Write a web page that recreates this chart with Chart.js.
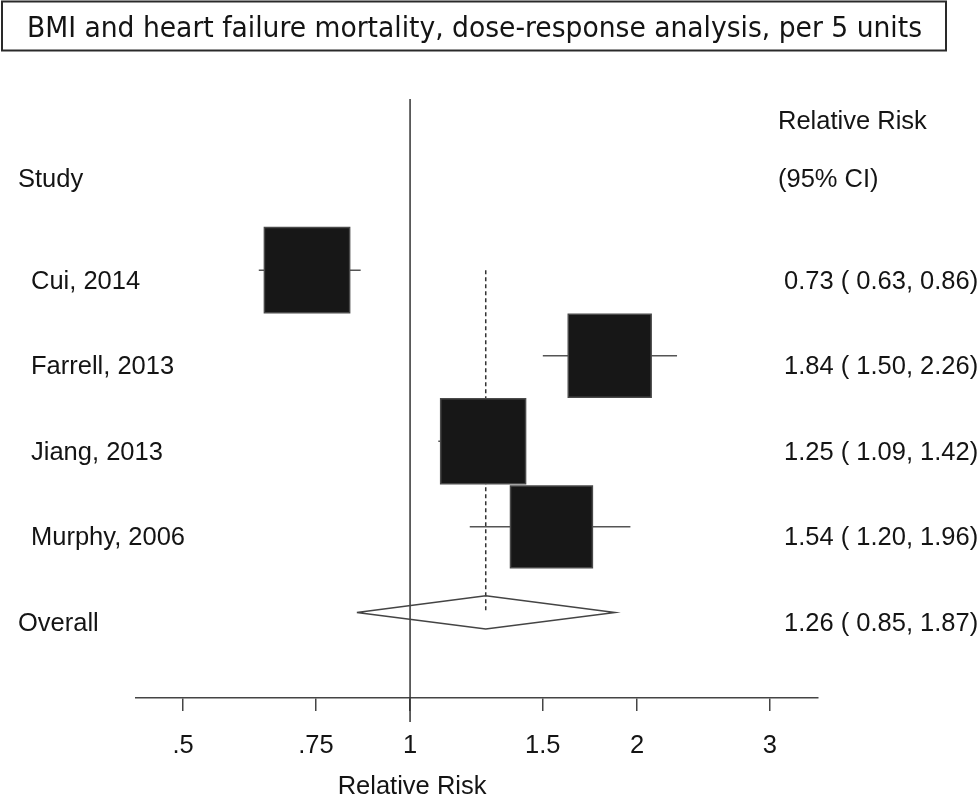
<!DOCTYPE html>
<html>
<head>
<meta charset="utf-8">
<script src="https://cdn.jsdelivr.net/npm/chart.js@4.4.1/dist/chart.umd.min.js"></script>
<style>
  html, body { margin: 0; padding: 0; background: #fff; }
  #wrap { width: 979px; height: 802px; position: relative; }
</style>
</head>
<body>
<div id="wrap"><canvas id="forest"></canvas></div>
<script>
const chartTitle = 'BMI and heart failure mortality, dose-response analysis, per 5 units';
const studies = ['Cui, 2014', 'Farrell, 2013', 'Jiang, 2013', 'Murphy, 2006'];
const rr = [0.73, 1.84, 1.25, 1.54];
const lower = [0.63, 1.50, 1.09, 1.20];
const upper = [0.86, 2.26, 1.42, 1.96];
const weights = [25.9, 24.5, 25.7, 23.9];   // study weights (%)
const overallLabel = 'Overall';
const overallRR = 1.26;
const overallLower = 0.85;
const overallUpper = 1.87;
const tickValues = [0.5, 0.75, 1, 1.5, 2, 3];
const tickLabels = ['.5', '.75', '1', '1.5', '2', '3'];

const lineColor = '#444';
const textColor = '#141414';
const labelFont = '"Liberation Sans", Arial, sans-serif';
const fmt = v => v.toFixed(2);

const overallRow = studies.length;
const boxSide = w => 16.75 * Math.sqrt(w);

// CI whiskers, one small line per study
const ciSets = studies.map((s, i) => ({
  type: 'line',
  label: s + ' CI',
  data: [{ x: lower[i], y: i }, { x: upper[i], y: i }],
  borderColor: '#555',
  borderWidth: 1.5,
  pointRadius: 0,
  order: 2
}));

const forestText = {
  id: 'forestText',
  beforeDatasetsDraw(chart) {
    const { ctx, scales: { x }, chartArea } = chart;
    ctx.save();
    ctx.strokeStyle = '#333';
    ctx.lineWidth = 1.5;
    const x1 = x.getPixelForValue(1);
    ctx.beginPath();
    ctx.moveTo(x1, chartArea.top);
    ctx.lineTo(x1, chartArea.bottom + 24);
    ctx.stroke();
    ctx.restore();
  },
  afterDraw(chart) {
    const { ctx, scales: { x, y } } = chart;
    ctx.save();

    // title box
    ctx.strokeStyle = '#2a2a2a';
    ctx.lineWidth = 2;
    ctx.strokeRect(2, 1.5, 944, 49);
    ctx.fillStyle = textColor;
    ctx.font = '28px "DejaVu Sans Condensed", "DejaVu Sans", sans-serif';
    const tw = ctx.measureText(chartTitle).width;
    ctx.save();
    ctx.translate(474.5, 36.5);
    ctx.scale(895 / tw, 1);
    ctx.textAlign = 'center';
    ctx.textBaseline = 'alphabetic';
    ctx.fillText(chartTitle, 0, 0);
    ctx.restore();

    ctx.font = '25.5px ' + labelFont;
    ctx.textAlign = 'left';
    ctx.textBaseline = 'alphabetic';

    // headers
    ctx.fillText('Relative Risk', 778, 129);
    ctx.fillText('(95% CI)', 778, 187);
    ctx.fillText('Study', 18, 187);

    // rows
    studies.forEach((s, i) => {
      const py = y.getPixelForValue(i) + 18.5;
      ctx.fillText(s, 31, py);
      ctx.fillText(fmt(rr[i]) + ' ( ' + fmt(lower[i]) + ', ' + fmt(upper[i]) + ')', 784, py);
    });
    const oy = y.getPixelForValue(overallRow) + 18.5;
    ctx.fillText(overallLabel, 18, oy);
    ctx.fillText(fmt(overallRR) + ' ( ' + fmt(overallLower) + ', ' + fmt(overallUpper) + ')', 784, oy);

    // axis title
    ctx.textAlign = 'center';
    ctx.fillText('Relative Risk', x.getPixelForValue(1) + 2, 794);
    ctx.restore();
  }
};

new Chart(document.getElementById('forest'), {
  type: 'scatter',
  data: {
    datasets: [
      {
        label: 'Relative risk',
        data: rr.map((v, i) => ({ x: v, y: i })),
        pointStyle: 'rect',
        pointRadius: c => boxSide(weights[c.dataIndex]) / Math.SQRT2,
        backgroundColor: '#171717',
        borderColor: '#4a4a4a',
        borderWidth: 1.5,
        order: 0
      },
      ...ciSets,
      {
        type: 'line',
        label: 'Overall estimate',
        data: [{ x: overallRR, y: 0 }, { x: overallRR, y: overallRow }],
        borderColor: '#333',
        borderWidth: 1.5,
        borderDash: [4, 3],
        pointRadius: 0,
        order: 3
      },
      {
        type: 'line',
        label: 'Overall',
        data: [
          { x: overallLower, y: overallRow },
          { x: overallRR, y: overallRow - 0.195 },
          { x: overallUpper, y: overallRow },
          { x: overallRR, y: overallRow + 0.195 },
          { x: overallLower, y: overallRow }
        ],
        borderColor: lineColor,
        borderWidth: 1.5,
        fill: false,
        tension: 0,
        pointRadius: 0,
        order: 1
      }
    ]
  },
  options: {
    responsive: true,
    maintainAspectRatio: false,
    animation: false,
    events: [],
    layout: { padding: { left: 136, right: 161, top: 99, bottom: 0 } },
    plugins: {
      legend: { display: false },
      tooltip: { enabled: false },
      title: { display: false }
    },
    scales: {
      x: {
        type: 'logarithmic',
        min: 0.433,
        max: 3.476,
        afterBuildTicks: scale => { scale.ticks = tickValues.map(v => ({ value: v })); },
        afterFit: scale => { scale.height = 104; },
        grid: {
          drawOnChartArea: false,
          drawTicks: true,
          tickLength: 13,
          color: lineColor,
          lineWidth: 1.5
        },
        border: { display: true, color: lineColor, width: 1.5 },
        ticks: {
          autoSkip: false,
          maxRotation: 0,
          padding: 20,
          color: textColor,
          font: { family: labelFont, size: 25.5 },
          callback: (value, index) => tickLabels[index]
        }
      },
      y: {
        type: 'linear',
        min: -2,
        max: 5,
        reverse: true,
        display: false
      }
    }
  },
  plugins: [forestText]
});
</script>
</body>
</html>
